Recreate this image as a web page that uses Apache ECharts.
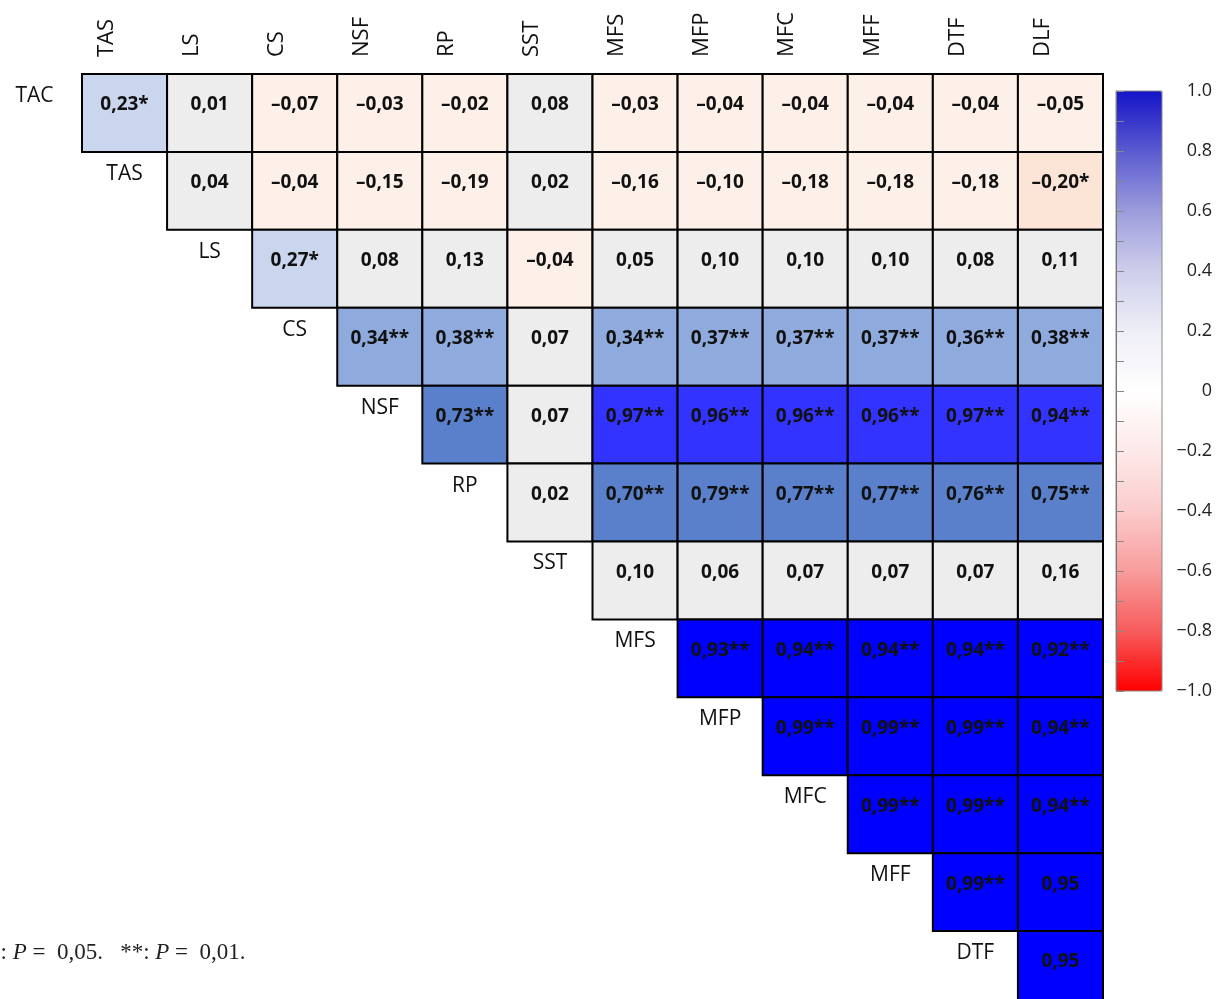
<!DOCTYPE html>
<html>
<head>
<meta charset="utf-8">
<script src="https://cdn.jsdelivr.net/npm/echarts@6/dist/echarts.min.js"></script>
<style>
  html, body { margin: 0; padding: 0; background: #fff; }
  #chart { width: 1227px; height: 999px; }
</style>
</head>
<body>
<div id="chart"></div>
<script>
// Variable names: rows (left, diagonal) and columns (top)
const rowNames = ['TAC', 'TAS', 'LS', 'CS', 'NSF', 'RP', 'SST', 'MFS', 'MFP', 'MFC', 'MFF', 'DTF'];
const colNames = ['TAS', 'LS', 'CS', 'NSF', 'RP', 'SST', 'MFS', 'MFP', 'MFC', 'MFF', 'DTF', 'DLF'];

// Correlation coefficients, row r holds columns r..11
const rTAC = [0.23, 0.01, -0.07, -0.03, -0.02, 0.08, -0.03, -0.04, -0.04, -0.04, -0.04, -0.05];
const rTAS = [0.04, -0.04, -0.15, -0.19, 0.02, -0.16, -0.10, -0.18, -0.18, -0.18, -0.20];
const rLS  = [0.27, 0.08, 0.13, -0.04, 0.05, 0.10, 0.10, 0.10, 0.08, 0.11];
const rCS  = [0.34, 0.38, 0.07, 0.34, 0.37, 0.37, 0.37, 0.36, 0.38];
const rNSF = [0.73, 0.07, 0.97, 0.96, 0.96, 0.96, 0.97, 0.94];
const rRP  = [0.02, 0.70, 0.79, 0.77, 0.77, 0.76, 0.75];
const rSST = [0.10, 0.06, 0.07, 0.07, 0.07, 0.16];
const rMFS = [0.93, 0.94, 0.94, 0.94, 0.92];
const rMFP = [0.99, 0.99, 0.99, 0.94];
const rMFC = [0.99, 0.99, 0.94];
const rMFF = [0.99, 0.95];
const rDTF = [0.95];

// Significance: 1 = P 0.05 (*), 2 = P 0.01 (**)
const sTAC = [1, 0, 0, 0, 0, 0, 0, 0, 0, 0, 0, 0];
const sTAS = [0, 0, 0, 0, 0, 0, 0, 0, 0, 0, 1];
const sLS  = [1, 0, 0, 0, 0, 0, 0, 0, 0, 0];
const sCS  = [2, 2, 0, 2, 2, 2, 2, 2, 2];
const sNSF = [2, 0, 2, 2, 2, 2, 2, 2];
const sRP  = [0, 2, 2, 2, 2, 2, 2];
const sSST = [0, 0, 0, 0, 0, 0];
const sMFS = [2, 2, 2, 2, 2];
const sMFP = [2, 2, 2, 2];
const sMFC = [2, 2, 2];
const sMFF = [2, 0];
const sDTF = [0];

const rowValues = [rTAC, rTAS, rLS, rCS, rNSF, rRP, rSST, rMFS, rMFP, rMFC, rMFF, rDTF];
const rowSig = [sTAC, sTAS, sLS, sCS, sNSF, sRP, sSST, sMFS, sMFP, sMFC, sMFF, sDTF];

const cells = [];
rowValues.forEach(function (vals, r) {
  vals.forEach(function (v, k) {
    cells.push({ value: [r + k, r, v], sig: rowSig[r][k] });
  });
});
const rowLabelData = rowNames.map(function (name, r) { return [r, r]; });

// Cell shading
const strongTint = { NSF: '#3333FF' };
function cellColor(v, r) {
  if (v >= 0.9) return strongTint[rowNames[r]] || '#0000FF';
  if (v >= 0.6) return '#5B80CB';
  if (v >= 0.3) return '#8FAADC';
  if (v >= 0.2) return '#CAD6EE';
  if (v >= 0) return '#EDEDED';
  if (v > -0.2) return '#FDF0E9';
  return '#FCE4D6';
}
function cellText(v, sig) {
  const s = Math.abs(v).toFixed(2).replace('.', ',');
  return (v < 0 ? '\u2013' : '') + s + (sig === 2 ? '**' : sig === 1 ? '*' : '');
}
function barLabel(v) {
  const a = Math.round(v * 10) / 10;
  if (a === 0) return '0';
  return (a < 0 ? '\u2212' : '') + Math.abs(a).toFixed(1);
}

const chart = echarts.init(document.getElementById('chart'), null, { renderer: 'canvas' });

const option = {
  backgroundColor: '#ffffff',
  animation: false,
  grid: [
    { left: 82, top: 74, width: 1021, height: 935, outerBoundsMode: 'none', containLabel: false },
    { left: 64, top: 74, width: 1021, height: 10, outerBoundsMode: 'none', containLabel: false },
    { left: 1116, top: 91, width: 46, height: 600, show: true, z: 10,
      outerBoundsMode: 'none', containLabel: false,
      backgroundColor: 'transparent', borderColor: '#8a8a8a', borderWidth: 1 }
  ],
  xAxis: [
    { gridIndex: 0, type: 'category', data: colNames, show: false },
    { gridIndex: 1, type: 'category', data: colNames, position: 'top',
      axisLine: { show: false }, axisTick: { show: false },
      axisLabel: { rotate: 90, margin: 17, color: '#111', fontSize: 22,
        fontFamily: 'Open Sans' } },
    { gridIndex: 2, type: 'value', show: false, min: 0, max: 1 }
  ],
  yAxis: [
    { gridIndex: 0, type: 'category', data: rowNames, inverse: true, show: false },
    { gridIndex: 1, type: 'value', show: false },
    { gridIndex: 2, type: 'value', position: 'right', min: -1, max: 1, interval: 0.2, z: 10,
      axisLine: { show: true, lineStyle: { color: '#777', width: 1 } },
      axisTick: { show: true, length: 8, lineStyle: { color: '#888' } },
      minorTick: { show: true, splitNumber: 2, length: 8, lineStyle: { color: '#888' } },
      splitLine: { show: false },
      axisLabel: { color: '#222', fontSize: 18, fontFamily: 'Open Sans', align: 'right',
        margin: 50, formatter: barLabel } }
  ],
  visualMap: {
    type: 'continuous',
    seriesIndex: [],
    min: -1,
    max: 1,
    orient: 'vertical',
    left: 1116,
    top: 91,
    padding: 0,
    itemWidth: 46,
    itemHeight: 600,
    calculable: false,
    text: null,
    z: 1,
    inRange: {
      color: ['#FF0000', '#F75C5C', '#F89C9C', '#FBCBCB', '#FDE9E9', '#FFFFFF',
              '#EEEEF7', '#CECEEB', '#9C9CDC', '#5A5AD0', '#1414C8']
    }
  },
  series: [
    {
      name: 'correlation',
      type: 'custom',
      xAxisIndex: 0,
      yAxisIndex: 0,
      data: cells,
      renderItem: function (params, api) {
        const c = api.value(0), r = api.value(1), v = api.value(2);
        const p = api.coord([c, r]);
        const s = api.size([1, 1]);
        const sig = cells[params.dataIndex].sig;
        return {
          type: 'group',
          children: [
            { type: 'rect',
              shape: { x: p[0] - s[0] / 2, y: p[1] - s[1] / 2, width: s[0], height: s[1] },
              style: { fill: cellColor(v, r), stroke: '#000', lineWidth: 2 } },
            { type: 'text', x: p[0], y: p[1] - 8, z2: 10,
              style: { text: cellText(v, sig), fill: '#111', align: 'center', verticalAlign: 'middle',
                font: 'bold 19px "Open Sans"' } }
          ]
        };
      }
    },
    {
      name: 'rowLabels',
      type: 'custom',
      xAxisIndex: 0,
      yAxisIndex: 0,
      data: rowLabelData,
      renderItem: function (params, api) {
        const c = api.value(0), r = api.value(1);
        const p = api.coord([c, r]);
        const s = api.size([1, 1]);
        return {
          type: 'text',
          x: p[0] - s[0] - (r === 0 ? 5 : 0),
          y: p[1] - 17,
          style: { text: rowNames[r], fill: '#111', align: 'center', verticalAlign: 'middle',
            font: '21px "Open Sans"' }
        };
      }
    }
  ],
  graphic: [
    {
      type: 'text',
      left: -11,
      top: 941,
      style: {
        text: '*: {i|P} =  0,05.   **: {i|P} =  0,01.',
        font: '23px "Liberation Serif"',
        fill: '#222',
        rich: { i: { fontStyle: 'italic', fontFamily: 'Liberation Serif', fontSize: 23 } }
      }
    }
  ]
};

chart.setOption(option);
</script>
</body>
</html>
